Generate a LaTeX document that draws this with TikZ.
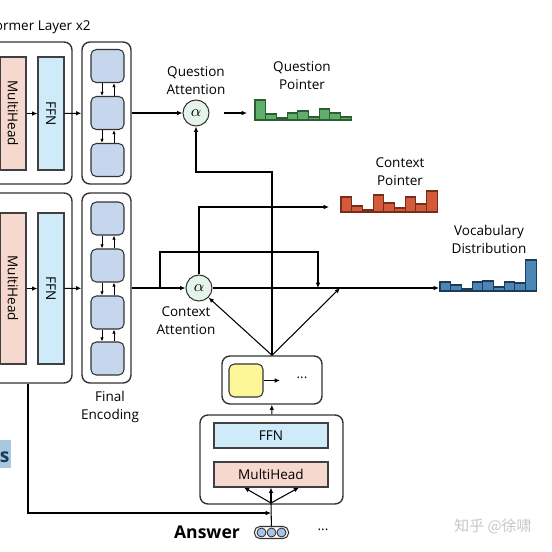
\documentclass[tikz,border=0pt]{standalone}
\usepackage{fontspec}
\setmainfont{Open Sans}
\newfontfamily\cjkfont{Noto Sans CJK SC}
\usepackage{graphicx}
\usepackage[dvipsnames]{xcolor}
\usetikzlibrary{arrows.meta}
\usetikzlibrary{positioning}
\definecolor{headpink}{HTML}{F6D8CF}
\definecolor{ffnblue}{HTML}{CFEAF9}
\definecolor{cellblue}{HTML}{C6D6EC}
\definecolor{celyellow}{HTML}{FDF79A}
\definecolor{attgreen}{HTML}{E5F4EA}
\definecolor{qfill}{HTML}{5FAE6A}
\definecolor{qline}{HTML}{2D5E33}
\definecolor{cfill}{HTML}{D35B3A}
\definecolor{cline}{HTML}{7A2C1B}
\definecolor{vfill}{HTML}{4D86B6}
\definecolor{vline}{HTML}{1D3A56}
\definecolor{tokblue}{HTML}{A8C3E6}
\definecolor{sfill}{HTML}{A8C8E0}
\tikzset{arr/.style = {-{Latex[length=3pt,width=2.6pt]}}}
\tikzset{sarr/.style = {-{Latex[length=2.4pt,width=2pt]}, line width=0.5pt}}
\tikzset{outer/.style = {draw=black!80, line width=0.8pt, rounded corners=4.5pt, inner sep=0}}
\tikzset{headbox/.style = {draw=black!75, fill=headpink, minimum width=0.52cm, inner sep=0}}
\tikzset{ffnbox/.style = {draw=black!75, fill=ffnblue, minimum width=0.52cm, inner sep=0}}
\tikzset{cell/.style = {draw=black!80, fill=cellblue, rounded corners=3pt, minimum width=0.66cm, minimum height=0.66cm, inner sep=0}}
\tikzset{attn/.style = {draw=black!80, fill=attgreen, circle, minimum size=0.52cm, inner sep=0, font=\small}}
\tikzset{qbar/.style = {draw=qline, fill=qfill, line width=0.6pt}}
\tikzset{cbar/.style = {draw=cline, fill=cfill, line width=0.6pt}}
\tikzset{vbar/.style = {draw=vline, fill=vfill, line width=0.6pt}}
\tikzset{tok/.style = {draw=black!80, fill=tokblue, circle, minimum size=0.18cm, inner sep=0, line width=0.5pt}}

\begin{document}
\begin{tikzpicture}[x=0.02cm, y=-0.02cm, line width=0.6pt, font=\fontsize{7.7pt}{10.2pt}\selectfont]
        \useasboundingbox (0,0) rectangle (552,552);
        \clip (0,0) rectangle (552,552);
        % question encoder
        \node[anchor=east] (title) at (97,27) {Transformer Layer x2};
        \node[outer, minimum width=1.76cm, minimum height=2.84cm] (enc1) at (28,113) {};
        \node[headbox, minimum height=2.26cm] (mh1) at (13,113.5) {\rotatebox{-90}{MultiHead}};
        \node[ffnbox, minimum height=2.26cm] (ffn1) at (51,113.5) {\rotatebox{-90}{FFN}};
        \node[outer, minimum width=0.98cm, minimum height=2.84cm] (col1) at (106.5,113) {};
        \foreach \y [count=\i] in {66,113,160} \node[cell] (qc\i) at (107.5,\y) {};
        \foreach \i/\j in {1/2,2/3} {
            \draw[sarr] ([xshift=-0.11cm]qc\i.south) -- ([xshift=-0.11cm]qc\j.north);
            \draw[sarr] ([xshift=0.13cm]qc\j.north) -- ([xshift=0.13cm]qc\i.south);
        }
        \draw[arr] (mh1) -- (ffn1);
        \draw[arr] (ffn1) -- (col1);
        % context encoder
        \node[outer, minimum width=1.76cm, minimum height=3.8cm] (enc2) at (28,288) {};
        \node[headbox, minimum height=3.02cm] (mh2) at (13,288.5) {\rotatebox{-90}{MultiHead}};
        \node[ffnbox, minimum height=3.02cm] (ffn2) at (51,288.5) {\rotatebox{-90}{FFN}};
        \node[outer, minimum width=0.98cm, minimum height=3.8cm] (col2) at (106.5,288) {};
        \foreach \y [count=\i] in {218.5,265.5,312.5,358.5} \node[cell] (cc\i) at (107.5,\y) {};
        \foreach \i/\j in {1/2,2/3,3/4} {
            \draw[sarr] ([xshift=-0.11cm]cc\i.south) -- ([xshift=-0.11cm]cc\j.north);
            \draw[sarr] ([xshift=0.13cm]cc\j.north) -- ([xshift=0.13cm]cc\i.south);
        }
        \draw[arr] (mh2) -- (ffn2);
        \draw[arr] (ffn2) -- (col2);
        \node[align=center] (final) at (110,407) {Final\\Encoding};
        % attention
        \node[attn] (qattn) at (196,113) {$\alpha$};
        \node[align=center] (qlab) at (196,81) {Question\\Attention};
        \node[attn] (cattn) at (199,288) {$\alpha$};
        \node[align=center] (clab) at (186,321) {Context\\Attention};
        \draw[arr] (col1) -- (qattn);
        \draw[arr] (col2) -- (cattn);
        % pointers
        \foreach \h [count=\i from 0] in {20,6,2,7,9,3,11,7,3}
            \draw[qbar] ({255+10.7*\i},120) rectangle ++(10.7,-\h);
        \foreach \h [count=\i from 0] in {15,6,2,17,9,4,15,8,21}
            \draw[cbar] ({341+10.7*\i},212) rectangle ++(10.7,-\h);
        \foreach \h [count=\i from 0] in {9,6,2,9,10,4,9,8,31}
            \draw[vbar] ({440+10.7*\i},291) rectangle ++(10.7,-\h);
        \node[align=center] (qptrlab) at (302,75.5) {Question\\Pointer};
        \node[align=center] (cptrlab) at (400,172) {Context\\Pointer};
        \node[align=center] (vlab) at (489,239.5) {Vocabulary\\Distribution};
        \coordinate (qptr) at (247,113);
        \coordinate (cptr) at (329,207);
        \coordinate (vptr) at (439,288);
        \coordinate (cbr) at (160,288);
        \coordinate (cmerge) at (318,288);
        \coordinate (vmerge) at (340,288);
        \draw[arr, shorten <=8pt] (qattn) -- (qptr);
        \draw[arr] (cattn.north) |- (cptr);
        \draw[arr] (cattn) -- (vptr);
        \draw[arr] (cbr) -- ++(0,-36) -| (cmerge);
        % decoder
        \node[outer, minimum width=2.0cm, minimum height=0.96cm] (dout) at (272,380) {};
        \node[cell, fill=celyellow, minimum width=0.68cm] (ycell) at (246,380.5) {};
        \node (ddots) at (302,378) {...};
        \coordinate (yend) at (280,380.5);
        \draw[arr] (ycell) -- (yend);
        \draw[arr] (dout.north) -- (dout.north |- 0,172) -| (qattn);
        \draw[arr] (dout.north) -- (cattn.south east);
        \draw[arr] (dout.north) -- (vmerge);
        \node[outer, minimum width=2.86cm, minimum height=1.78cm] (dec) at (271.5,459.5) {};
        \node[ffnbox, minimum width=2.28cm, minimum height=0.5cm] (ffn3) at (271,435.5) {FFN};
        \node[headbox, minimum width=2.28cm, minimum height=0.5cm] (mh3) at (271,474.5) {MultiHead};
        \draw[arr] (dec) -- (dout);
        \coordinate (fan) at (271,503);
        \draw[arr] (fan) -- ([xshift=-0.54cm]mh3.south);
        \draw[arr] (fan) -- (mh3.south);
        \draw[arr] (fan) -- ([xshift=0.56cm]mh3.south);
        % answer
        \node[draw=black!80, rounded corners=3pt, minimum width=0.68cm, minimum height=0.24cm, inner sep=0] (ans) at (271.5,532.5) {};
        \foreach \x [count=\i] in {261.5,271.5,281.5} \node[tok] (t\i) at (\x,532.5) {};
        \node[font=\fontsize{10pt}{12pt}\selectfont\bfseries] (anstxt) at (207,532) {Answer};
        \node (adots) at (323,530) {...};
        \coordinate (ansjoin) at (271,513);
        \draw (ans) -- (fan);
        \draw[arr] (enc2.south) |- (ansjoin);
        % cut-off parts
        \fill[sfill] (-20,440) rectangle (11,468);
        \node[anchor=east, inner sep=0, text=vline, font=\fontsize{11pt}{13pt}\selectfont\bfseries] (sfrag) at (10,457) {s};
        \node[text=black!22, font=\cjkfont\fontsize{8.5pt}{10pt}\selectfont] (mark) at (493,526) {知乎 @徐啸};
    \end{tikzpicture}
\end{document}
